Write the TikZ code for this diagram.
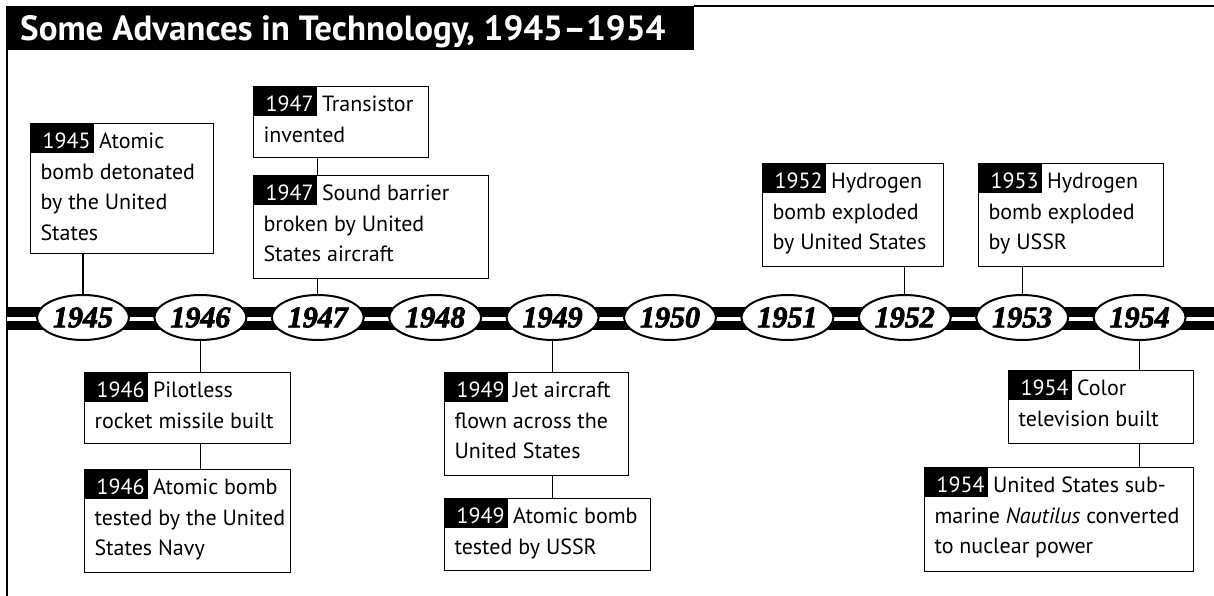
\documentclass[tikz,border=0pt]{standalone}
\usepackage{fontspec}
\setmainfont{PT Sans}
\newfontfamily\yearfont{Liberation Serif}[BoldItalicFeatures={FakeBold=2.5}]
\usetikzlibrary{shapes.geometric}
\newlength\tagind
\setlength\tagind{10pt}
\newcommand\yr[1]{\hspace*{-\tagind}{\setlength\fboxsep{0pt}\colorbox{black}{\rule[-4pt]{0pt}{29pt}\hspace*{12pt}\textcolor{white}{#1}\hspace*{3.5pt}}}\hspace{5pt}}
\newcommand\evbox[4]{\begin{minipage}[c][#2][t]{#1}\fontsize{22}{30.5}\selectfont\raggedright\leftskip=\tagind\noindent\yr{#3}#4\end{minipage}}
\begin{document}
\begin{tikzpicture}[x=1pt,y=-1pt,
  evt/.style={draw, line width=1.1pt, inner sep=0pt, anchor=north west, fill=white},
  yearell/.style={ellipse, draw, line width=2pt, fill=white, inner sep=0pt, minimum width=92pt, minimum height=45pt, font=\yearfont\bfseries\itshape\fontsize{30}{30}\selectfont},
  conn/.style={line width=1.1pt},
  frame/.style={line width=1.4pt}]
\useasboundingbox (0,0) rectangle (1214,596);
% title bar
\node[fill=black, inner sep=0pt, minimum width=688pt, minimum height=44pt, anchor=north west] (bar) at (6,6) {};
\node[anchor=base west, inner sep=0pt, text=white, font=\fontsize{35}{35}\selectfont\bfseries] (title) at (20,41) {Some Advances in Technology, 1945–1954};
\coordinate (topend) at (1214,6);
\coordinate (leftend) at (7,596);
\draw[frame] (bar.north east) -- (topend);
\draw[frame] (bar.south west) ++(1,0) -- (leftend);
% band
\fill[black] (7,306.5) rectangle (1214,329.5);
\fill[white] (7,316.5) rectangle (1214,321);
% year ellipses
\foreach \i/\y in {0/1945,1/1946,2/1947,3/1948,4/1949,5/1950,6/1951,7/1952,8/1953,9/1954}{
  \node[yearell] (y\y) at ({83+117.4*\i},317.5) {\y};
}
% boxes
\node[evt] (b45) at (30,123) {\evbox{183pt}{130pt}{1945}{Atomic\\bomb detonated\\by the United\\States}};
\node[evt] (b47a) at (253,86) {\evbox{175pt}{71pt}{1947}{Transistor\\invented}};
\node[evt] (b47b) at (253,175) {\evbox{235pt}{103pt}{1947}{Sound barrier\\broken by United\\States aircraft}};
\node[evt] (b52) at (762,163) {\evbox{181pt}{103pt}{1952}{Hydrogen\\bomb exploded\\by United States}};
\node[evt] (b53) at (978,163) {\evbox{185pt}{103pt}{1953}{Hydrogen\\bomb exploded\\by USSR}};
\node[evt] (b46a) at (84,372) {\evbox{206pt}{71pt}{1946}{Pilotless\\rocket missile built}};
\node[evt] (b46b) at (84,469) {\evbox{206pt}{103pt}{1946}{Atomic bomb\\tested by the United\\States Navy}};
\node[evt] (b49a) at (444,372) {\evbox{184pt}{103pt}{1949}{Jet aircraft\\flown across the\\United States}};
\node[evt] (b49b) at (444,498) {\evbox{206pt}{72pt}{1949}{Atomic bomb\\tested by USSR}};
\node[evt] (b54a) at (1008,370) {\evbox{185pt}{73pt}{1954}{Color\\television built}};
\node[evt] (b54b) at (924,467) {\evbox{269pt}{104pt}{1954}{United States sub-\\marine \textit{Nautilus} converted\\to nuclear power}};
% connectors
\draw[conn] (y1945.north) -- (y1945.north |- b45.south);
\draw[conn] (y1947.north) -- (y1947.north |- b47b.south);
\draw[conn] (y1947.north |- b47b.north) -- (y1947.north |- b47a.south);
\draw[conn] (y1952.north) -- (y1952.north |- b52.south);
\draw[conn] (y1953.north) -- (y1953.north |- b53.south);
\draw[conn] (y1946.south) -- (y1946.south |- b46a.north);
\draw[conn] (y1946.south |- b46a.south) -- (y1946.south |- b46b.north);
\draw[conn] (y1949.south) -- (y1949.south |- b49a.north);
\draw[conn] (y1949.south |- b49a.south) -- (y1949.south |- b49b.north);
\draw[conn] (y1954.south) -- (y1954.south |- b54a.north);
\draw[conn] (y1954.south |- b54a.south) -- (y1954.south |- b54b.north);
\end{tikzpicture}
\end{document}
